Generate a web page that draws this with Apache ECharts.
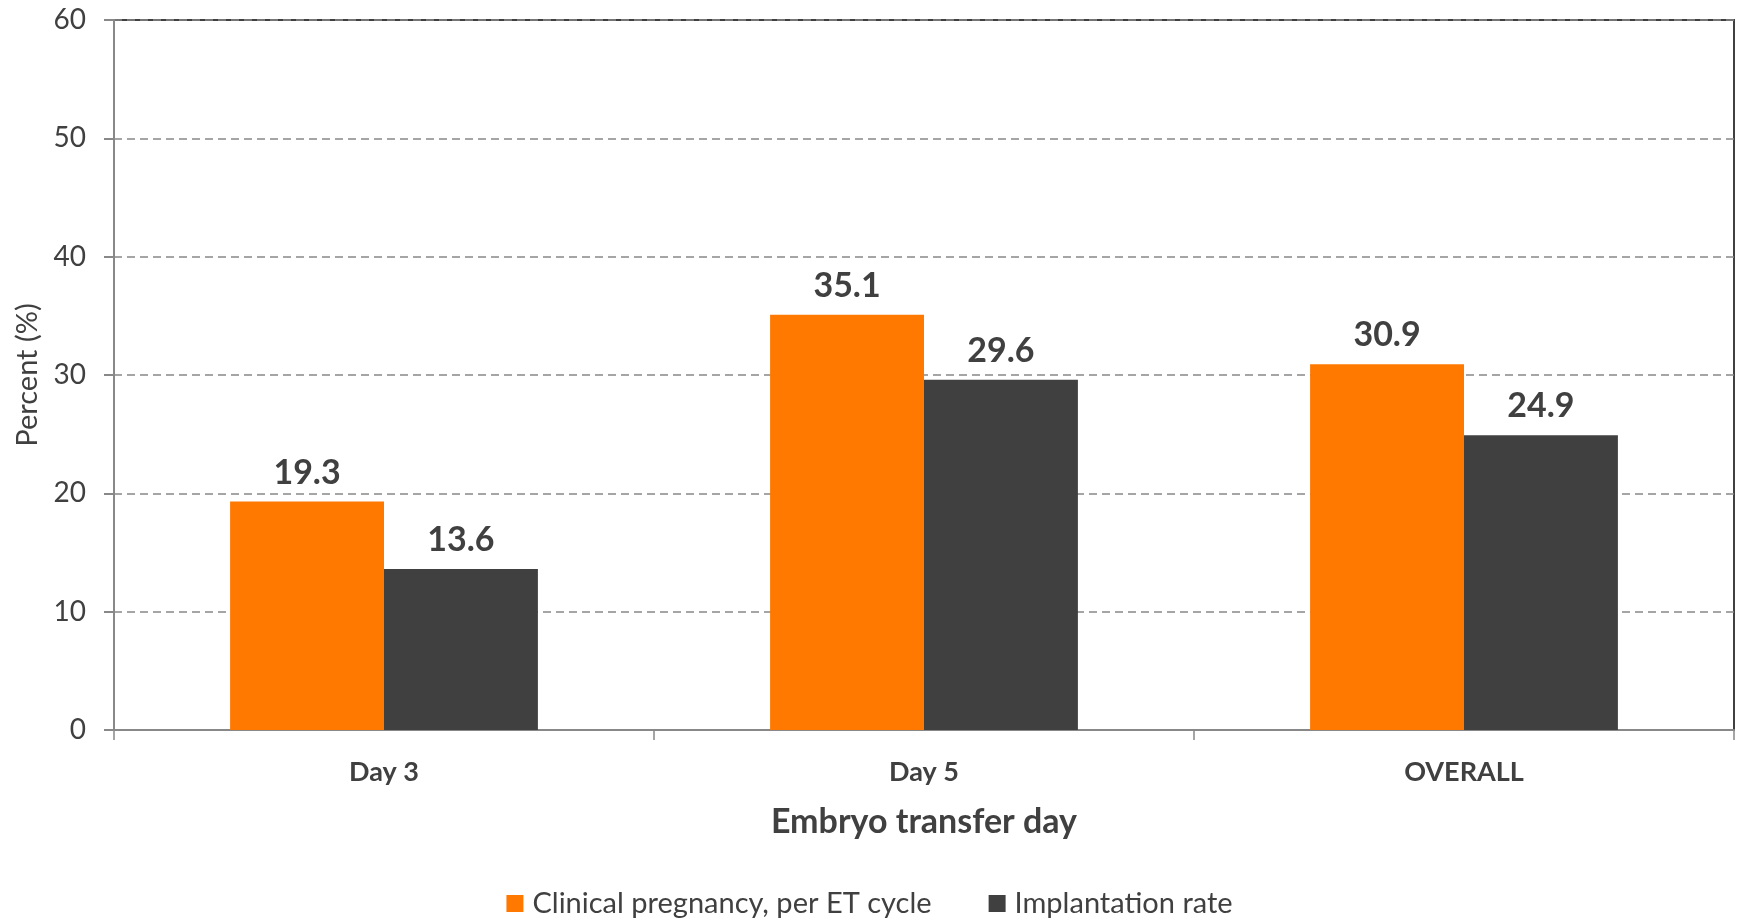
<!DOCTYPE html>
<html>
<head>
    <meta charset="utf-8">
    <title>Embryo transfer day</title>
    <script src="https://cdn.jsdelivr.net/npm/echarts@6/dist/echarts.min.js"></script>
</head>
<body style="margin:0;">

    <div id="main" style="width: 1739px;height:920px;"></div>
    <script type="text/javascript">
        var categories = ['Day 3', 'Day 5', 'OVERALL'];
        var pregnancy = [19.3, 35.1, 30.9];
        var implantation = [13.6, 29.6, 24.9];
        var seriesNames = ['Clinical pregnancy, per ET cycle', 'Implantation rate'];

        var myChart = echarts.init(document.getElementById('main'));
        var font = 'Lato';
        var labelStyle = {
            show: true,
            position: 'top',
            distance: 12,
            fontFamily: font,
            fontWeight: 'bold',
            fontSize: 34,
            color: '#404040',
            formatter: function (p) { return p.value.toFixed(1); }
        };
        var option = {
            textStyle: { fontFamily: font },
            grid: {
                left: 114,
                right: 5,
                top: 20,
                bottom: 190,
                show: true,
                borderColor: '#404040',
                borderWidth: 2
            },
            legend: {
                bottom: -3,
                left: 'center',
                itemWidth: 17,
                itemHeight: 17,
                itemGap: 57,
                icon: 'rect',
                textStyle: { fontFamily: font, fontSize: 29, color: '#404040', padding: [0, 0, 0, 4] },
                data: seriesNames
            },
            xAxis: {
                type: 'category',
                data: categories,
                name: 'Embryo transfer day',
                nameLocation: 'middle',
                nameGap: 75,
                nameTextStyle: { fontFamily: font, fontSize: 34, fontWeight: 'bold', color: '#404040' },
                axisLine: { lineStyle: { color: '#888', width: 2 } },
                axisTick: { show: true, length: 10, lineStyle: { color: '#888', width: 1.5 } },
                axisLabel: { margin: 29, fontFamily: font, fontSize: 27, fontWeight: 'bold', color: '#404040' }
            },
            yAxis: {
                type: 'value',
                min: 0,
                max: 60,
                interval: 10,
                name: 'Percent (%)',
                nameLocation: 'middle',
                nameGap: 70,
                nameTextStyle: { fontFamily: font, fontSize: 29, color: '#404040' },
                axisLine: { show: true, lineStyle: { color: '#888', width: 2 } },
                axisTick: { show: true, length: 10, lineStyle: { color: '#888', width: 2 } },
                axisLabel: { margin: 28, fontFamily: font, fontSize: 28, color: '#404040' },
                splitLine: { lineStyle: { color: '#888', width: 1.5, type: [8, 5] } }
            },
            series: [
                {
                    name: seriesNames[0],
                    type: 'bar',
                    data: pregnancy,
                    barGap: '0%',
                    barCategoryGap: '43%',
                    itemStyle: { color: '#FF7800' },
                    label: labelStyle
                },
                {
                    name: seriesNames[1],
                    type: 'bar',
                    data: implantation,
                    itemStyle: { color: '#404040' },
                    label: labelStyle
                }
            ]
        };
        myChart.setOption(option);
    </script>
</body>
</html>
